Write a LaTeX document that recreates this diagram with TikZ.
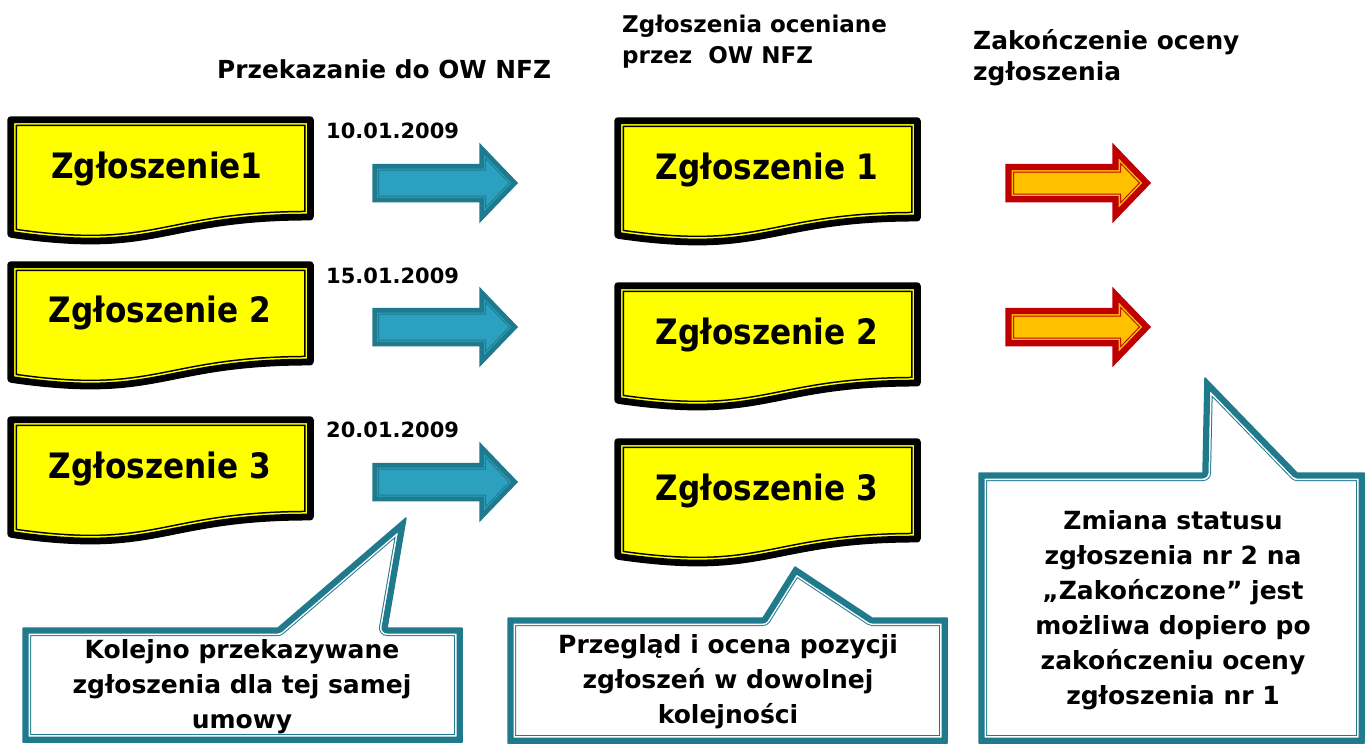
\documentclass[tikz,border=0pt]{standalone}
\usepackage{fontspec}
\setmainfont{DejaVu Sans}
\newfontfamily\docfont[FakeStretch=0.89]{DejaVu Sans}
\definecolor{docyellow}{RGB}{255,255,0}
\definecolor{bluefill}{RGB}{44,161,191}
\definecolor{blueedge}{RGB}{31,122,142}
\definecolor{orangefill}{RGB}{255,192,0}
\definecolor{rededge}{RGB}{192,0,0}
\definecolor{calledge}{RGB}{33,122,140}
% layered border: #1 options, #2 path, #3 edge colour, #4 fill colour,
% #5 outer edge width*2, #6 stripe end*2, #7 thin line end*2
\newcommand\layershape[7]{%
  \begin{scope}[#1]
    \begin{scope}
      \clip #2;
      \fill[#4] #2;
      \draw[#3, line width=#7] #2;
      \draw[#4, line width=#6] #2;
      \draw[#3, line width=#5] #2;
    \end{scope}
    \draw[#3, line width=1.5] #2;
  \end{scope}}
\newcommand\docpath[2]{(#1,#2) -- (#1+305,#2) -- (#1+305,#2+102.7) .. controls (#1+152.5,#2+102.7) and (#1+152.5,#2+141.8) .. (#1,#2+119.6) -- cycle}
\newcommand\arrowpath[2]{(#1,#2-18.5) -- (#1+107,#2-18.5) -- (#1+107,#2-38.5) -- (#1+144,#2) -- (#1+107,#2+38.5) -- (#1+107,#2+18.5) -- (#1,#2+18.5) -- cycle}
\newcommand\docbox[2]{\layershape{rounded corners=3, line join=round}{\docpath{#1}{#2}}{black}{docyellow}{12}{15}{18}}
\newcommand\bluearrow[2]{\layershape{line join=miter}{\arrowpath{#1}{#2}}{blueedge}{bluefill}{8}{10}{12}}
\newcommand\orangearrow[2]{\layershape{line join=miter}{\arrowpath{#1}{#2}}{rededge}{orangefill}{11}{14}{16}}
\newcommand\callout[1]{\layershape{line join=round}{#1}{calledge}{white}{11}{14}{16}}
\tikzset{
  doctext/.style={font=\docfont\bfseries\fontsize{35}{40}\selectfont, anchor=base, inner sep=0},
  datetext/.style={font=\bfseries\fontsize{21}{25}\selectfont, anchor=base west, inner sep=0},
  headtext/.style={font=\bfseries\fontsize{#1}{32}\selectfont, anchor=base west, inner sep=0},
  calltext/.style={font=\bfseries\fontsize{25}{35}\selectfont, align=center, anchor=north, inner sep=0},
}
\begin{document}
\begin{tikzpicture}[x=1pt, y=-1pt]
\useasboundingbox (0,0) rectangle (1372,745);
\fill[white] (0,0) rectangle (1372,745);

% headers
\node[headtext=24.8] (h1) at (217,78) {Przekazanie do OW NFZ};
\node[headtext=23] (h2a) at (622,32) {Zgłoszenia oceniane};
\node[headtext=23] (h2b) at (622,63) {przez\ \ OW NFZ};
\node[headtext=24.9] (h3a) at (973,49) {Zakończenie oceny};
\node[headtext=24.9] (h3b) at (973,80) {zgłoszenia};

% left documents
\docbox{8}{117}
\docbox{8}{262}
\docbox{8}{417}
\node[doctext] (l1) at (157,178) {Zgłoszenie1};
\node[doctext] (l2) at (160,322) {Zgłoszenie 2};
\node[doctext] (l3) at (160,478) {Zgłoszenie 3};

% dates
\node[datetext] (d1) at (326,138) {10.01.2009};
\node[datetext] (d2) at (326,283) {15.01.2009};
\node[datetext] (d3) at (326,437) {20.01.2009};

% blue arrows
\bluearrow{373}{183}
\bluearrow{373}{327}
\bluearrow{373}{482}

% middle documents
\docbox{615}{118}
\docbox{615}{283}
\docbox{615}{439}
\node[doctext] (m1) at (767,179) {Zgłoszenie 1};
\node[doctext] (m2) at (767,344) {Zgłoszenie 2};
\node[doctext] (m3) at (767,500) {Zgłoszenie 3};

% orange arrows
\orangearrow{1006}{183}
\orangearrow{1006}{327}

% callouts
\callout{(23,628) -- (278,628) -- (406,518) -- (387,628) -- (462,628) -- (462,742) -- (23,742) -- cycle}
\callout{(508,618) -- (763,618) -- (795,567) -- (872,618) -- (947,618) -- (947,743) -- (508,743) -- cycle}
\callout{(979,473) -- (1203,473) -- (1205,378) -- (1297,473) -- (1364,473) -- (1364,743) -- (979,743) -- cycle}
\node[calltext] (c1) at (242,639) {Kolejno przekazywane\\zgłoszenia dla tej samej\\umowy};
\node[calltext] (c2) at (728,634) {Przegląd i ocena pozycji\\zgłoszeń w dowolnej\\kolejności};
\node[calltext] (c3) at (1173,510) {Zmiana statusu\\zgłoszenia nr 2 na\\„Zakończone” jest\\możliwa dopiero po\\zakończeniu oceny\\zgłoszenia nr 1};
\end{tikzpicture}
\end{document}
